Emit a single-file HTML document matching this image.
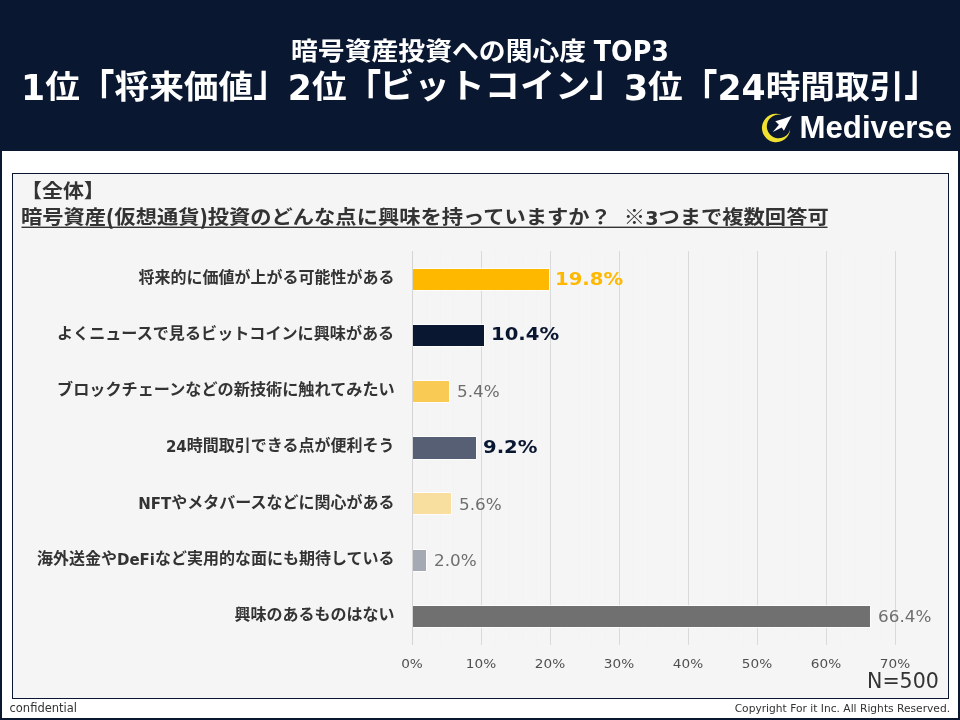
<!DOCTYPE html>
<html lang="ja">
<head>
<meta charset="utf-8">
<title>暗号資産投資への関心度 TOP3</title>
<style>
html,body{margin:0;padding:0;}
body{width:960px;height:720px;position:relative;overflow:hidden;background:#fff;
  font-family:"Liberation Sans","Noto Sans CJK JP",sans-serif;color:#333;}
.abs{position:absolute;white-space:nowrap;}
#frame{left:0;top:0;width:956px;height:716px;border:2px solid #0a1730;box-sizing:content-box;}
#header{left:0;top:0;width:960px;height:151px;background:#0a1730;}
.t1{left:0;width:960px;text-align:center;top:35px;font-size:24.5px;line-height:34px;font-weight:700;color:#fff;transform:scaleX(1.095);transform-origin:480px 50%;}
.t2{left:0;width:960px;text-align:center;top:64px;font-size:31.8px;line-height:46px;font-weight:700;color:#fff;transform:scaleX(1.09);transform-origin:480px 50%;}
.bo,.bc{display:inline-block;transform:scaleY(1.43);}
.bo{transform-origin:50% 22%;}
.bc{transform-origin:50% 86%;}
.kk{display:inline-block;transform:scale(1.015,1.07);transform-origin:50% 62%;}
.pr{font-family:"DejaVu Sans","Liberation Sans",sans-serif;font-size:16.5px;display:inline-block;position:relative;top:1px;transform:scaleY(1.42);transform-origin:50% 62%;}
.lat{font-family:"DejaVu Sans","Liberation Sans",sans-serif;display:inline-block;position:relative;top:2px;transform:scaleY(1.09);transform-origin:50% 72%;}
#logo-text{left:799.5px;top:109px;font-size:31.2px;line-height:38px;font-weight:700;color:#fff;font-family:"Liberation Sans",sans-serif;}
#panel{left:12px;top:173px;width:935px;height:524px;border:1px solid #0a1730;background:#f5f5f5;}
.h1{left:21px;top:178px;font-size:19.4px;line-height:26px;font-weight:700;color:#333;transform:scaleX(1.08);transform-origin:0 50%;}
.h2{left:21px;top:203px;font-size:19.4px;line-height:28px;font-weight:700;color:#333;transform:scaleX(1.097);transform-origin:0 50%;}
.grid{width:1px;top:251px;height:394px;background:#dadada;}
.bar{left:413px;height:21px;box-sizing:border-box;box-shadow:0 -1px 0 0 rgba(255,255,255,.8),0 1px 0 0 rgba(255,255,255,.8),1px 0 0 0 rgba(255,255,255,.8);}
.mgrid{width:1px;top:251px;height:394px;background:#f3f3f3;}
.cat{right:565.5px;font-size:16px;line-height:22px;font-weight:700;color:#333;text-align:right;transform:scaleX(1.0);transform-origin:100% 50%;}
.lat.c{font-size:15px;top:0.5px;transform:none;}
.val{font-family:"DejaVu Sans","Liberation Sans",sans-serif;font-size:15px;line-height:22px;color:#6e6e6e;transform:scaleX(1.12);transform-origin:0 50%;}
.val.b{font-weight:700;font-size:17px;transform:scaleX(1.155);}
.ax{font-family:"DejaVu Sans","Liberation Sans",sans-serif;font-size:13px;line-height:16px;color:#505050;width:60px;text-align:center;top:656px;transform:scaleX(1.05);}
#n{font-family:"DejaVu Sans","Liberation Sans",sans-serif;left:867px;top:667px;font-size:22px;line-height:28px;color:#333;transform:scaleX(0.935);transform-origin:0 50%;}
#conf{font-family:"DejaVu Sans","Liberation Sans",sans-serif;left:9.5px;top:700px;font-size:11.5px;line-height:16px;color:#333;}
#copy{font-family:"DejaVu Sans","Liberation Sans",sans-serif;right:10px;top:700.5px;font-size:11px;line-height:16px;color:#333;transform:scaleX(0.97);transform-origin:100% 50%;}
</style>
</head>
<body>
<div id="header" class="abs"></div>
<div id="frame" class="abs"></div>
<div class="abs t1">暗号資産投資への関心度<span class="lat" style="font-size:23.2px;margin-left:7px;top:1px;transform:scaleY(1.19)">TOP3</span></div>
<div class="abs t2"><span class="lat">1</span>位<span class="bo">「</span>将来価値<span class="bc">」</span><span class="lat">2</span>位<span class="bo">「</span><span class="kk">ビットコイン</span><span class="bc">」</span><span class="lat">3</span>位<span class="bo">「</span><span class="lat">24</span>時間取引<span class="bc">」</span></div>

<svg class="abs" id="logo-icon" style="left:755px;top:108px" width="50" height="40" viewBox="755 108 50 40">
  <path d="M781.7 114.9 A14.2 14.2 0 1 0 790.3 129.1 A11.89 11.89 0 1 1 781.7 114.9 Z" fill="#f0e130"/>
  <path d="M791.9 115.8 L787.8 123 L783.9 130.8 L781.7 127.4 L772.8 131.9 L778.9 124.7 L775.3 121.3 L782.8 119.1 Z" fill="#fff"/>
</svg>
<div id="logo-text" class="abs">Mediverse</div>

<div id="panel" class="abs"></div>
<div class="abs h1">【全体】</div>
<div class="abs h2">暗号資産<span class="pr">(</span>仮想通貨<span class="pr">)</span>投資のどんな点に興味を持っていますか<span style="padding-left:0.5px">？</span><span style="padding-left:6px"> ※</span><span class="lat" style="font-size:17.5px;top:0.5px">3</span>つまで複数回答可</div>

<svg class="abs" style="left:0;top:220px" width="960" height="12" viewBox="0 220 960 12"><rect x="21.5" y="226.6" width="806" height="1.4" fill="#333"/></svg>

<!-- gridlines -->
<div class="abs mgrid" style="left:426px"></div>
<div class="abs mgrid" style="left:440px"></div>
<div class="abs mgrid" style="left:453px"></div>
<div class="abs mgrid" style="left:467px"></div>
<div class="abs mgrid" style="left:495px"></div>
<div class="abs mgrid" style="left:509px"></div>
<div class="abs mgrid" style="left:522px"></div>
<div class="abs mgrid" style="left:536px"></div>
<div class="abs mgrid" style="left:564px"></div>
<div class="abs mgrid" style="left:578px"></div>
<div class="abs mgrid" style="left:591px"></div>
<div class="abs mgrid" style="left:605px"></div>
<div class="abs mgrid" style="left:633px"></div>
<div class="abs mgrid" style="left:647px"></div>
<div class="abs mgrid" style="left:660px"></div>
<div class="abs mgrid" style="left:674px"></div>
<div class="abs mgrid" style="left:702px"></div>
<div class="abs mgrid" style="left:716px"></div>
<div class="abs mgrid" style="left:729px"></div>
<div class="abs mgrid" style="left:743px"></div>
<div class="abs mgrid" style="left:771px"></div>
<div class="abs mgrid" style="left:785px"></div>
<div class="abs mgrid" style="left:798px"></div>
<div class="abs mgrid" style="left:812px"></div>
<div class="abs mgrid" style="left:840px"></div>
<div class="abs mgrid" style="left:854px"></div>
<div class="abs mgrid" style="left:867px"></div>
<div class="abs mgrid" style="left:881px"></div>
<div class="abs grid" style="left:412px;background:#d4d4d4"></div>
<div class="abs grid" style="left:481px"></div>
<div class="abs grid" style="left:550px"></div>
<div class="abs grid" style="left:619px"></div>
<div class="abs grid" style="left:688px"></div>
<div class="abs grid" style="left:757px"></div>
<div class="abs grid" style="left:826px"></div>
<div class="abs grid" style="left:895px"></div>

<!-- bars -->
<div class="abs bar" style="top:269px;width:136px;background:#ffb800"></div>
<div class="abs bar" style="top:325px;width:71px;background:#0a1730"></div>
<div class="abs bar" style="top:381px;width:36px;background:#f9cb55"></div>
<div class="abs bar" style="top:437px;width:63px;height:22px;background:#565f73"></div>
<div class="abs bar" style="top:493px;width:38px;background:#f8dfa0"></div>
<div class="abs bar" style="top:550px;width:13px;background:#a5a9b4"></div>
<div class="abs bar" style="top:606px;width:457px;background:#707070"></div>

<!-- category labels -->
<div class="abs cat" style="top:267px">将来的に価値が上がる可能性がある</div>
<div class="abs cat" style="top:323px;transform:scaleX(1.006)">よくニュースで見るビットコインに興味がある</div>
<div class="abs cat" style="top:379px;transform:scaleX(1.009)">ブロックチェーンなどの新技術に触れてみたい</div>
<div class="abs cat" style="top:435px"><span class="lat c">24</span>時間取引できる点が便利そう</div>
<div class="abs cat" style="top:492px"><span class="lat c">NFT</span>やメタバースなどに関心がある</div>
<div class="abs cat" style="top:548px">海外送金や<span class="lat c">DeFi</span>など実用的な面にも期待している</div>
<div class="abs cat" style="top:604px">興味のあるものはない</div>

<!-- value labels -->
<div class="abs val b" style="left:555px;top:268px;color:#ffb800">19.8%</div>
<div class="abs val b" style="left:491px;top:323px;color:#0a1730">10.4%</div>
<div class="abs val" style="left:457px;top:381px">5.4%</div>
<div class="abs val b" style="left:483px;top:436px;color:#0a1730">9.2%</div>
<div class="abs val" style="left:459px;top:494px">5.6%</div>
<div class="abs val" style="left:434px;top:550px">2.0%</div>
<div class="abs val" style="left:878px;top:606px">66.4%</div>

<!-- axis labels -->
<div class="abs ax" style="left:382px">0%</div>
<div class="abs ax" style="left:451px">10%</div>
<div class="abs ax" style="left:520px">20%</div>
<div class="abs ax" style="left:589px">30%</div>
<div class="abs ax" style="left:658px">40%</div>
<div class="abs ax" style="left:727px">50%</div>
<div class="abs ax" style="left:796px">60%</div>
<div class="abs ax" style="left:865px">70%</div>

<div id="n" class="abs">N=500</div>
<div id="conf" class="abs">confidential</div>
<div id="copy" class="abs">Copyright For it Inc. All Rights Reserved.</div>
</body>
</html>
